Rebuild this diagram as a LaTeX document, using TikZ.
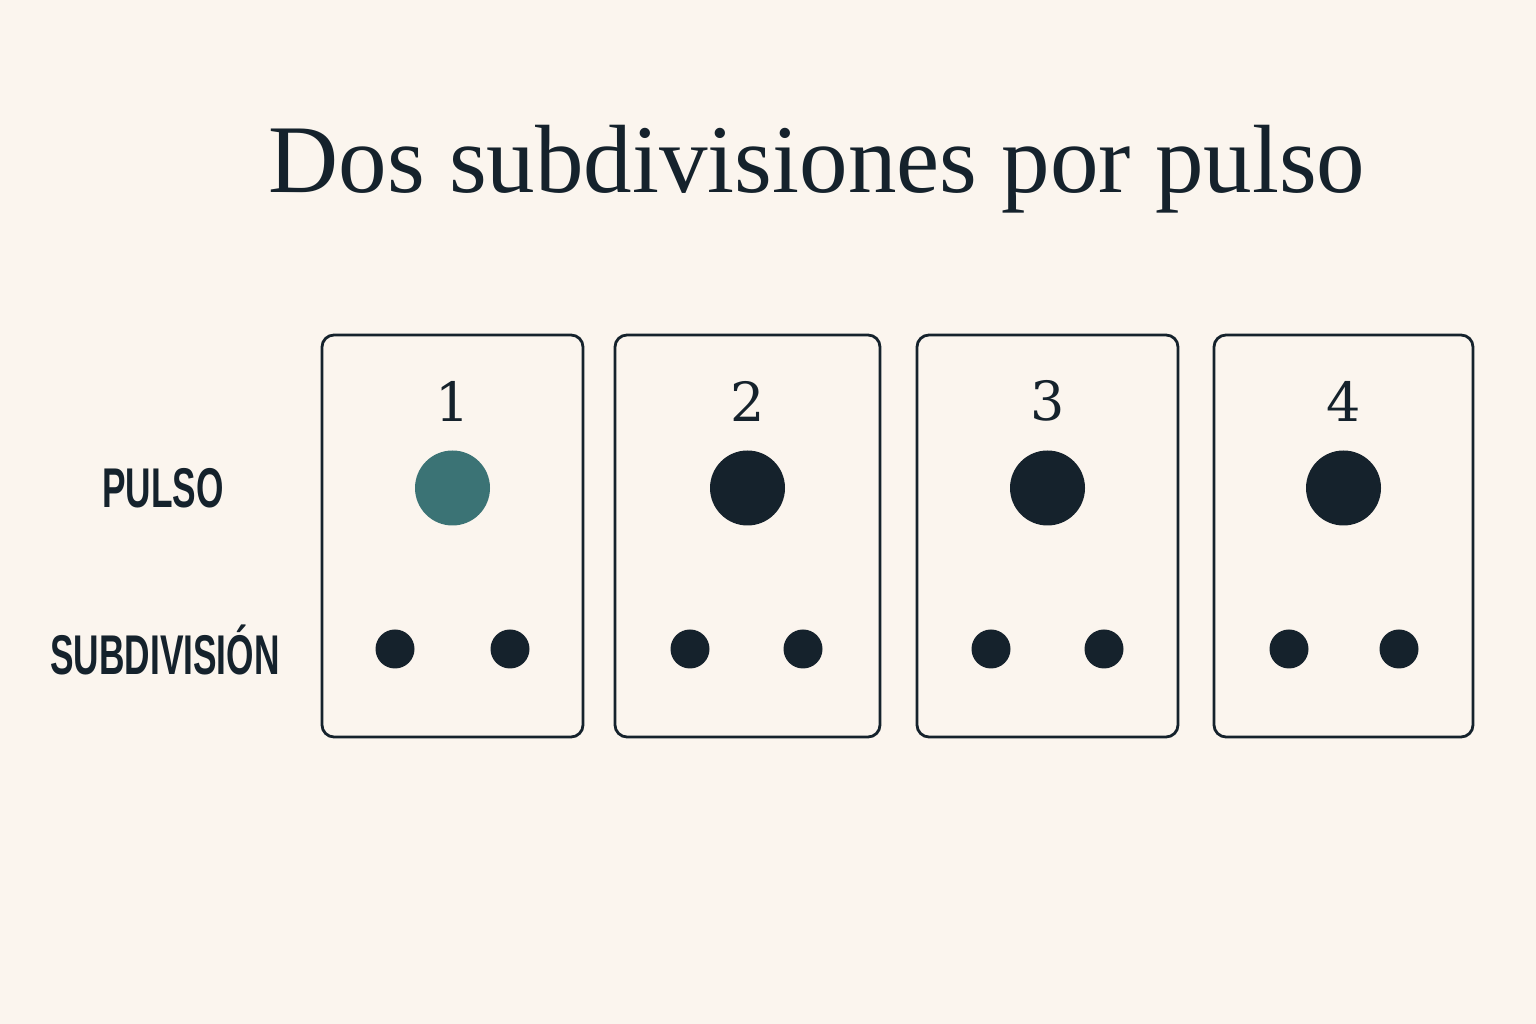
\documentclass[tikz,border=0pt]{standalone}
\usepackage{fontspec}
\setmainfont{Liberation Serif}
\setsansfont{Liberation Sans}
\newfontfamily\digitfont{DejaVu Serif}
\definecolor{paper}{HTML}{FBF5EE}
\definecolor{ink}{HTML}{15222C}
\definecolor{teal}{HTML}{3B7375}
\tikzset{
  beatbox/.style={draw=ink, line width=2.8pt, rounded corners=12pt, inner sep=0pt},
  beatnum/.style={text=ink, font=\digitfont\fontsize{54}{54}\selectfont},
  bigdot/.style={circle, inner sep=0pt, minimum size=75pt},
  smalldot/.style={circle, fill=ink, inner sep=0pt, minimum size=39pt},
  rowlabel/.style={text=ink, font=\sffamily\bfseries\fontsize{56}{56}\selectfont, xscale=0.63, transform shape}
}
\begin{document}
\begin{tikzpicture}[x=1pt,y=1pt]
\fill[paper] (0,0) rectangle (1536,1024);
\useasboundingbox (0,0) rectangle (1536,1024);
\node[text=ink, font=\fontsize{97}{97}\selectfont, anchor=base] (title) at (817,831) {Dos subdivisiones por pulso};
\node[rowlabel] (pulso) at (163,536) {PULSO};
\node[rowlabel] (subdiv) at (165,374) {SUBDIVISIÓN};
\foreach \n/\cx/\w/\sa/\sb/\col in {1/452.5/261/395/510/teal, 2/747.5/265/690/803/ink, 3/1047.5/261/991/1104/ink, 4/1343.5/259/1289/1399/ink}
{
  \node[beatbox, minimum width=\w pt, minimum height=402pt] (box\n) at (\cx,488) {};
  \node[beatnum] (num\n) at (\cx,623) {\n};
  \node[bigdot, fill=\col] (beat\n) at (\cx,536) {};
  \node[smalldot] (suba\n) at (\sa,375) {};
  \node[smalldot] (subb\n) at (\sb,375) {};
}
\end{tikzpicture}
\end{document}
